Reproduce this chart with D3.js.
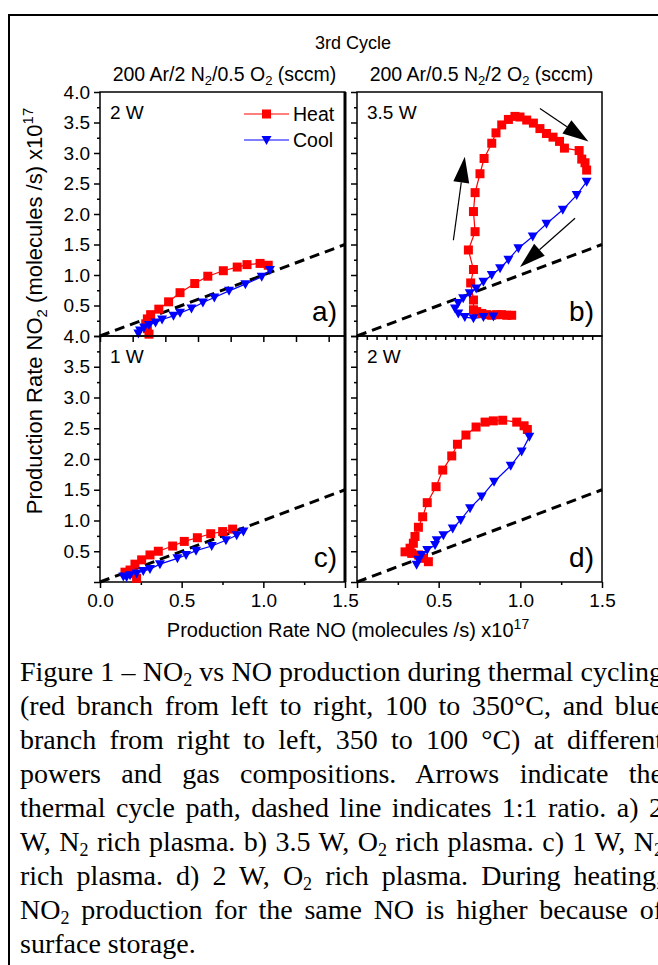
<!DOCTYPE html>
<html>
<head>
<meta charset="utf-8">
<script src="https://cdn.jsdelivr.net/npm/d3@7"></script>
<style>
  body { margin: 0; background: #fff; overflow: hidden; }
  svg text { font-family: "Liberation Sans", Arial, sans-serif; fill: #000; }
  svg text.cap { font-family: "Liberation Serif", "Times New Roman", serif; }
</style>
</head>
<body>
<script>
// NO2 vs NO production, [NO, NO2] in units of 1e17 molecules/s
var heatA = [[0.30,0.03],[0.29,0.12],[0.28,0.20],[0.29,0.28],[0.31,0.35],[0.36,0.44],[0.42,0.56],[0.49,0.71],[0.58,0.86],[0.66,0.98],[0.755,1.07],[0.84,1.13],[0.90,1.17],[0.98,1.19],[1.03,1.16]];
var coolA = [[1.04,1.08],[0.99,0.97],[0.89,0.85],[0.79,0.74],[0.70,0.63],[0.63,0.55],[0.56,0.45],[0.49,0.38],[0.45,0.33],[0.38,0.27],[0.34,0.22],[0.30,0.18],[0.27,0.14],[0.245,0.09],[0.235,0.04]];

var heatB = [[0.947,0.34],[0.917,0.34],[0.886,0.35],[0.855,0.35],[0.825,0.34],[0.794,0.35],[0.764,0.37],[0.733,0.40],[0.713,0.43],[0.713,0.59],[0.696,0.87],[0.713,1.09],[0.682,1.41],[0.723,1.71],[0.713,2.04],[0.723,2.35],[0.753,2.66],[0.778,2.91],[0.825,3.16],[0.851,3.33],[0.886,3.46],[0.927,3.55],[0.967,3.60],[0.998,3.59],[1.039,3.54],[1.08,3.49],[1.12,3.40],[1.16,3.32],[1.20,3.26],[1.24,3.19],[1.27,3.08],[1.36,3.04],[1.376,2.90],[1.396,2.84],[1.406,2.72]];
var coolB = [[1.406,2.53],[1.345,2.31],[1.26,2.07],[1.16,1.84],[1.076,1.63],[0.988,1.44],[0.927,1.25],[0.876,1.11],[0.825,1.00],[0.774,0.89],[0.73,0.78],[0.69,0.70],[0.65,0.62],[0.62,0.54],[0.60,0.45],[0.62,0.37],[0.66,0.31],[0.713,0.29],[0.774,0.31],[0.835,0.32]];

var heatC = [[0.224,0.06],[0.204,0.14],[0.184,0.195],[0.153,0.16],[0.214,0.29],[0.255,0.36],[0.306,0.44],[0.357,0.50],[0.445,0.585],[0.516,0.66],[0.596,0.72],[0.678,0.785],[0.751,0.82],[0.812,0.86]];
var coolC = [[0.878,0.82],[0.837,0.76],[0.771,0.68],[0.684,0.585],[0.588,0.51],[0.527,0.44],[0.474,0.385],[0.367,0.29],[0.306,0.21],[0.265,0.18],[0.224,0.14],[0.184,0.11],[0.163,0.08],[0.143,0.09]];

var heatD = [[0.437,0.33],[0.407,0.385],[0.376,0.44],[0.335,0.465],[0.294,0.49],[0.325,0.55],[0.345,0.63],[0.355,0.74],[0.376,0.89],[0.402,1.06],[0.43,1.29],[0.484,1.55],[0.525,1.82],[0.58,2.05],[0.615,2.24],[0.667,2.39],[0.729,2.52],[0.784,2.60],[0.835,2.62],[0.892,2.63],[0.978,2.60],[1.023,2.54],[1.043,2.48]];
var coolD = [[1.055,2.36],[1.008,2.12],[0.941,1.89],[0.839,1.63],[0.763,1.39],[0.692,1.20],[0.635,1.01],[0.586,0.87],[0.529,0.76],[0.488,0.68],[0.478,0.60],[0.43,0.52],[0.396,0.44],[0.376,0.36],[0.365,0.28]];

// cycle path arrows in panel b: [tail, tip]
var arrowsB = [[[0.59,1.57],[0.66,2.94]], [[1.12,3.73],[1.417,3.19]], [[1.335,1.93],[0.998,1.13]]];
// 1:1 reference line
var ratioLine = [[0,0],[1.5,1.5]];

var xMajor = [0, 0.5, 1.0, 1.5];
var xMinor = [0.25, 0.75, 1.25];
var yMajor = [0, 0.5, 1.0, 1.5, 2.0, 2.5, 3.0, 3.5, 4.0];
var yMinor = [0.25, 0.75, 1.25, 1.75, 2.25, 2.75, 3.25, 3.75];
var yLabels = [0.5, 1.0, 1.5, 2.0, 2.5, 3.0, 3.5, 4.0];

var panelNames = ["a)", "b)", "c)", "d)"];
var powers = ["2 W", "3.5 W", "1 W", "2 W"];
var gasTitles = ["200 Ar/2 N{2}/0.5 O{2} (sccm)", "200 Ar/0.5 N{2}/2 O{2} (sccm)"];
var legendNames = ["Heat", "Cool"];

var captionLines = [
  "Figure 1 – NO{2} vs NO production during thermal cycling",
  "(red branch from left to right, 100 to 350°C, and blue",
  "branch from right to left, 350 to 100 °C) at different",
  "powers and gas compositions. Arrows indicate the",
  "thermal cycle path, dashed line indicates 1:1 ratio. a) 2",
  "W, N{2} rich plasma. b) 3.5 W, O{2} rich plasma. c) 1 W, N{2}",
  "rich plasma. d) 2 W, O{2} rich plasma. During heating,",
  "NO{2} production for the same NO is higher because of",
  "surface storage."
];

var W = 658, H = 965;
var svg = d3.select("body").append("svg").attr("width", W).attr("height", H);

// page box
svg.append("path").attr("d", "M9,1000 V15 H700").attr("fill", "none").attr("stroke", "#000").attr("stroke-width", 2);

// writes "text{sub}" as tspans; the baseline comes back on the next piece
function richText(sel, str, subSize, drop) {
  var back = 0;
  str.split(/(\{[^}]*\})/).forEach(function (part) {
    if (!part) return;
    if (part[0] === "{") {
      sel.append("tspan").attr("font-size", subSize).attr("dy", drop - back).text(part.slice(1, -1));
      back = drop;
    } else {
      sel.append("tspan").attr("dy", -back).text(part);
      back = 0;
    }
  });
}

var xL = d3.scaleLinear().domain([0, 1.5]).range([100, 345]),
    xR = d3.scaleLinear().domain([0, 1.5]).range([357, 602]),
    yT = d3.scaleLinear().domain([0, 4]).range([336, 92]),
    yB = d3.scaleLinear().domain([0, 4]).range([582, 336]);

var panels = [
  { x: xL, y: yT, heat: heatA, cool: coolA },
  { x: xR, y: yT, heat: heatB, cool: coolB },
  { x: xL, y: yB, heat: heatC, cool: coolC },
  { x: xR, y: yB, heat: heatD, cool: coolD }
];

// titles
svg.append("text").attr("x", 353).attr("y", 49).attr("text-anchor", "middle").attr("font-size", 18).text("3rd Cycle");
[xL, xR].forEach(function (x, i) {
  var t = svg.append("text").attr("x", (x.range()[0] + x.range()[1]) / 2 + 2).attr("y", 81)
    .attr("text-anchor", "middle").attr("font-size", 19.5);
  richText(t, gasTitles[i], 13, 4);
});

var tri = "M-5,-4L5,-4L0,5Z";

panels.forEach(function (p, i) {
  var g = svg.append("g");
  var left = p.x.range()[0], right = p.x.range()[1], top = p.y.range()[1], bottom = p.y.range()[0];
  var isLeft = i % 2 === 0, isBottom = i >= 2;

  // y axis (outward ticks)
  g.append("g").attr("transform", "translate(" + left + ",0)")
    .call(d3.axisLeft(p.y).tickValues(yMajor).tickSize(6).tickPadding(4)
      .tickFormat(function (d) { return isLeft && yLabels.indexOf(d) >= 0 ? d3.format(".1f")(d) : ""; }));
  g.append("g").attr("transform", "translate(" + left + ",0)")
    .call(d3.axisLeft(p.y).tickValues(yMinor).tickSize(3).tickFormat(""));

  // bottom axis
  if (isBottom) {
    g.append("g").attr("transform", "translate(0," + bottom + ")")
      .call(d3.axisBottom(p.x).tickValues(xMajor).tickSize(6).tickPadding(6)
        .tickFormat(function (d) { return (!isLeft && d === 0) ? "" : d3.format(".1f")(d); }));
    g.append("g").attr("transform", "translate(0," + bottom + ")")
      .call(d3.axisBottom(p.x).tickValues(xMinor).tickSize(3).tickFormat(""));
  } else {
    // ticks hanging from the shared edge
    var vals = isLeft ? d3.range(0, 1.51, 0.2) : d3.range(0, 1.5, 0.06);
    g.append("g").attr("transform", "translate(0," + bottom + ")")
      .call(d3.axisBottom(p.x).tickValues(vals).tickSize(isLeft ? 6 : 4).tickFormat(""));
  }

  g.selectAll(".domain").remove();
  g.selectAll(".tick line").attr("stroke", "#000").attr("stroke-width", 1.5);
  g.selectAll(".tick text").attr("font-size", 19).attr("font-family", "Liberation Sans, Arial, sans-serif").attr("fill", "#000");

  // frame
  g.append("rect").attr("x", left).attr("y", top).attr("width", right - left).attr("height", bottom - top)
    .attr("fill", "none").attr("stroke", "#000").attr("stroke-width", 1.5);
  if (isLeft) g.append("line").attr("x1", right).attr("x2", right).attr("y1", top).attr("y2", bottom)
    .attr("stroke", "#000").attr("stroke-width", 3);

  // 1:1 line
  g.append("path").datum(ratioLine)
    .attr("d", d3.line().x(function (d) { return p.x(d[0]); }).y(function (d) { return p.y(d[1]); }))
    .attr("fill", "none").attr("stroke", "#000").attr("stroke-width", 3).attr("stroke-dasharray", "10,6");

  var line = d3.line().x(function (d) { return p.x(d[0]); }).y(function (d) { return p.y(d[1]); });
  g.append("path").datum(p.heat).attr("d", line).attr("fill", "none").attr("stroke", "#ff0000").attr("stroke-width", 1.2);
  g.append("path").datum(p.cool).attr("d", line).attr("fill", "none").attr("stroke", "#0000ff").attr("stroke-width", 1.2);

  g.selectAll(".sq").data(p.heat).enter().append("rect")
    .attr("x", function (d) { return p.x(d[0]) - 4.5; }).attr("y", function (d) { return p.y(d[1]) - 4.5; })
    .attr("width", 9).attr("height", 9).attr("fill", "#ff0000");
  g.selectAll(".tri").data(p.cool).enter().append("path")
    .attr("d", tri)
    .attr("transform", function (d) { return "translate(" + p.x(d[0]) + "," + p.y(d[1]) + ")"; })
    .attr("fill", "#0000ff");

  // labels
  g.append("text").attr("x", left + 10).attr("y", top + 27).attr("font-size", 19).text(powers[i]);
  g.append("text").attr("x", right - 8).attr("y", bottom - 15).attr("text-anchor", "end").attr("font-size", 28).text(panelNames[i]);
});

// legend in panel a
legendNames.forEach(function (name, i) {
  var y = 114 + i * 26, lg = svg.append("g");
  lg.append("line").attr("x1", 244).attr("x2", 289).attr("y1", y).attr("y2", y)
    .attr("stroke", i ? "#0000ff" : "#ff0000").attr("stroke-width", 1.2);
  if (i) lg.append("path").attr("d", tri).attr("transform", "translate(266.5," + y + ")").attr("fill", "#0000ff");
  else lg.append("rect").attr("x", 262).attr("y", y - 4.5).attr("width", 9).attr("height", 9).attr("fill", "#ff0000");
  lg.append("text").attr("x", 293).attr("y", y + 7).attr("font-size", 19.5).text(name);
});

// arrows in panel b
var arrowG = svg.append("g");
arrowsB.forEach(function (a) {
  var x1 = xR(a[0][0]), y1 = yT(a[0][1]), x2 = xR(a[1][0]), y2 = yT(a[1][1]);
  var ang = Math.atan2(y2 - y1, x2 - x1), L = 26, w = 8;
  var bx = x2 - L * Math.cos(ang), by = y2 - L * Math.sin(ang);
  arrowG.append("line").attr("x1", x1).attr("y1", y1).attr("x2", bx).attr("y2", by).attr("stroke", "#000").attr("stroke-width", 1.2);
  arrowG.append("path").attr("d", "M" + x2 + "," + y2 +
    "L" + (bx + w * Math.sin(ang)) + "," + (by - w * Math.cos(ang)) +
    "L" + (bx - w * Math.sin(ang)) + "," + (by + w * Math.cos(ang)) + "Z").attr("fill", "#000");
});

// axis titles
var xt = svg.append("text").attr("x", 348).attr("y", 637).attr("text-anchor", "middle").attr("font-size", 20);
xt.append("tspan").text("Production Rate NO (molecules /s) x10");
xt.append("tspan").attr("font-size", 14).attr("dy", -8).text("17");
var yt = svg.append("text").attr("transform", "translate(42,311) rotate(-90)").attr("text-anchor", "middle").attr("font-size", 22);
yt.append("tspan").text("Production Rate NO");
yt.append("tspan").attr("font-size", 15).attr("dy", 5).text("2");
yt.append("tspan").attr("dy", -5).text(" (molecules /s) x10");
yt.append("tspan").attr("font-size", 15).attr("dy", -9).text("17");

// caption, justified to the column
var capLeft = 20, capRight = 663;
captionLines.forEach(function (ln, i) {
  var t = svg.append("text").attr("class", "cap").attr("x", capLeft).attr("y", 681 + i * 34).attr("font-size", 28);
  richText(t, ln, 18, 5);
  if (i < captionLines.length - 1) {
    var nat = t.node().getComputedTextLength();
    var spaces = (ln.match(/ /g) || []).length;
    t.attr("word-spacing", (capRight - capLeft - nat) / spaces);
  }
});
</script>
</body>
</html>
